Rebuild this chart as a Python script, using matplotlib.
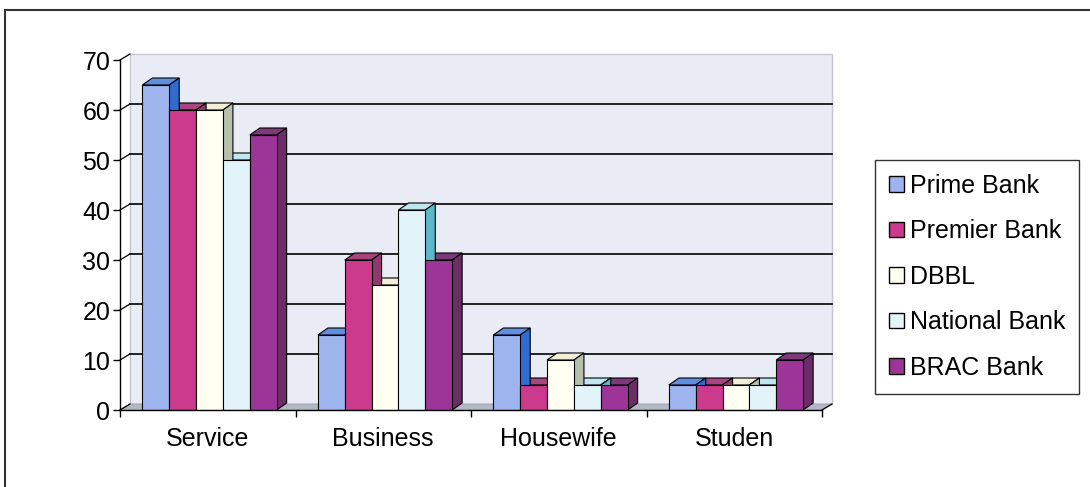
import matplotlib
matplotlib.use("Agg")
import matplotlib.pyplot as plt
from matplotlib.patches import Polygon, Patch
from matplotlib.lines import Line2D

plt.rcParams["font.family"] = ["Liberation Sans", "DejaVu Sans"]

categories = ["Service", "Business", "Housewife", "Studen"]
banks = ["Prime Bank", "Premier Bank", "DBBL", "National Bank", "BRAC Bank"]
prime_bank = [65, 15, 15, 5]
premier_bank = [60, 30, 5, 5]
dbbl = [60, 25, 10, 5]
national_bank = [50, 40, 5, 5]
brac_bank = [55, 30, 5, 10]
series = [prime_bank, premier_bank, dbbl, national_bank, brac_bank]
y_ticks = [0, 10, 20, 30, 40, 50, 60, 70]

# face colours: front, top, side
front_colors = ["#9db4ee", "#cc3a8e", "#fffff2", "#e2f4fa", "#9c3597"]
top_colors = ["#5e8fe0", "#a8457f", "#f3eed6", "#bde6f0", "#7d3a7a"]
side_colors = ["#2f6bd0", "#8e3a6c", "#b7bfae", "#5cb8c8", "#6a2d66"]

W, H = 1090, 487
fig = plt.figure(figsize=(W / 100, H / 100), dpi=100)
fig.patch.set_facecolor("white")

# frame of the chart area (top and left edges)
fig.add_artist(Line2D([5 / W, 1.0], [1 - 10 / H, 1 - 10 / H], color="#333333", lw=1.5))
fig.add_artist(Line2D([5 / W, 5 / W], [0, 1 - 10 / H], color="#333333", lw=1.5))

x0p, x1p, y0p, y1p = 120, 822, 410, 60
ax = fig.add_axes([x0p / W, 1 - y0p / H, (x1p - x0p) / W, (y0p - y1p) / H])
ax.set_xlim(0, 4)
ax.set_ylim(0, 70)
ax.set_facecolor("none")

px_x = 4 / (x1p - x0p)
px_y = 70 / (y0p - y1p)
# depth of the plot box and of the columns, in data units
wdx, wdy = 10 * px_x, 6 * px_y
bdx, bdy = 10 * px_x, 7 * px_y

# back wall and floor
ax.add_patch(Polygon([(wdx, wdy), (4 + wdx, wdy), (4 + wdx, 70 + wdy), (wdx, 70 + wdy)],
                     closed=True, facecolor="#eaecf5", edgecolor="#c4c6d2", lw=1.0,
                     zorder=0.5, clip_on=False))
ax.add_patch(Polygon([(0, 0), (4, 0), (4 + wdx, wdy), (wdx, wdy)], closed=True,
                     facecolor="#b4b7c4", edgecolor="#9a9cab", lw=0.6, zorder=0.6,
                     clip_on=False))
for v in y_ticks[1:-1]:
    ax.plot([wdx, 4 + wdx], [v + wdy, v + wdy], color="black", lw=1.2, zorder=0.7,
            clip_on=False)
for v in y_ticks:
    ax.plot([0, wdx], [v, v + wdy], color="black", lw=0.9, zorder=0.7, clip_on=False)
ax.plot([4, 4 + wdx], [0, wdy], color="black", lw=0.9, zorder=0.7, clip_on=False)

n = len(series)
bw = 0.153
group_w = n * bw
for s, vals in enumerate(series):
    xs = [i + 0.5 - group_w / 2 + 0.01 + s * bw for i in range(len(categories))]
    ax.bar(xs, vals, width=bw, align="edge", color=front_colors[s], edgecolor="black",
           lw=0.8, zorder=3)
    for x, v in zip(xs, vals):
        top = [(x, v), (x + bw, v), (x + bw + bdx, v + bdy), (x + bdx, v + bdy)]
        side = [(x + bw, 0), (x + bw + bdx, bdy), (x + bw + bdx, v + bdy), (x + bw, v)]
        ax.add_patch(Polygon(top, closed=True, facecolor=top_colors[s], edgecolor="black",
                             lw=0.8, zorder=1, clip_on=False))
        ax.add_patch(Polygon(side, closed=True, facecolor=side_colors[s], edgecolor="black",
                             lw=0.8, zorder=2, clip_on=False))

# axes, ticks and labels
for sp in ["top", "right"]:
    ax.spines[sp].set_visible(False)
for sp in ["left", "bottom"]:
    ax.spines[sp].set_color("black")
    ax.spines[sp].set_linewidth(1.0)
    ax.spines[sp].set_zorder(4)
ax.set_yticks(y_ticks)
ax.tick_params(axis="y", direction="out", length=5, width=1.0, pad=2, labelsize=18)
ax.set_xticks(range(len(categories) + 1))
ax.set_xticklabels([])
ax.set_xticks([i + 0.5 for i in range(len(categories))], minor=True)
ax.set_xticklabels(categories, minor=True, fontsize=18)
ax.tick_params(axis="x", which="major", direction="out", length=5, width=1.0)
ax.tick_params(axis="x", which="minor", length=0, pad=12)

handles = [Patch(facecolor=c, edgecolor="black", lw=1.0) for c in front_colors]
leg = fig.legend(handles, banks, loc="upper left",
                 bbox_to_anchor=(875 / W, 1 - 160 / H), fontsize=18,
                 frameon=True, fancybox=False, handlelength=0.6, handleheight=0.6,
                 handletextpad=0.25, labelspacing=0.86, borderpad=0.55, borderaxespad=0)
leg.get_frame().set_edgecolor("black")
leg.get_frame().set_linewidth(1.0)

fig.savefig("out.png", dpi=100, facecolor="white")
